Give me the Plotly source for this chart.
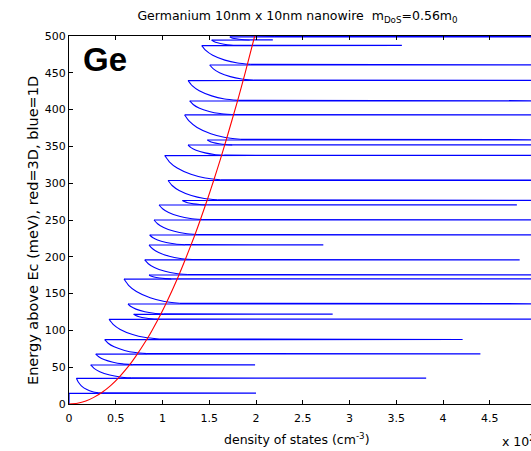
import plotly.graph_objects as go

# ---------------- data ----------------
# red: bulk (3D) density of states, x in units of 1e20 cm^-3
dos3d_meV = [0, 1, 4, 9, 16, 25, 37, 51, 64, 89, 100, 121, 139, 173, 198, 227, 250,
             282, 304, 332, 359, 413, 449, 500]
dos3d = [0, 0.09, 0.18, 0.265, 0.355, 0.445, 0.54, 0.635, 0.71, 0.838, 0.888, 0.977,
         1.047, 1.168, 1.249, 1.338, 1.404, 1.491, 1.548, 1.618, 1.682, 1.805, 1.882, 1.986]

# blue: nanowire (1D) density of states
level_meV = [14.5, 34.9, 53.0, 67.9, 87.5, 115.1, 121.9, 135.9, 169.8, 175.3, 195.7,
             216.0, 229.6, 250.0, 270.4, 276.5, 303.7, 337.6, 351.9, 358.7, 392.7,
             411.7, 439.5, 460.6, 487.0, 494.5, 498.8]
spike_dos = [2.00, 3.82, 1.99, 4.40, 4.21, 6, 2.82, 6, 6, 6, 4.82, 2.72, 6, 6, 4.79,
             6, 6, 6, 6, 6, 6, 6, 6, 6, 3.56, 2.18, 6]
valley_dos = [0.0, 0.079, 0.232, 0.286, 0.382, 0.428, 0.692, 0.631, 0.588, 0.856, 0.81,
              0.856, 0.863, 0.909, 0.963, 1.213, 1.059, 1.024, 1.273, 1.48, 1.237,
              1.291, 1.273, 1.505, 1.42, 1.526, 1.72]
tail_meV = [
    [15.11, 16.54, 19.6, 24.7, 29.8], [35.44, 36.71, 39.43, 43.95, 48.48],
    [53.45, 54.49, 56.73, 60.45, 64.18], [68.49, 69.86, 72.8, 77.7, 82.6],
    [88.33, 90.26, 94.4, 101.3, 108.2], [115.3, 115.78, 116.8, 118.5, 120.2],
    [122.32, 123.3, 125.4, 128.9, 132.4], [136.92, 139.29, 144.38, 152.85, 161.33],
    [169.97, 170.35, 171.18, 172.55, 173.93], [175.91, 177.34, 180.4, 185.5, 190.6],
    [196.31, 197.73, 200.78, 205.85, 210.93], [216.41, 217.36, 219.4, 222.8, 226.2],
    [230.21, 231.64, 234.7, 239.8, 244.9], [250.61, 252.04, 255.1, 260.2, 265.3],
    [270.58, 271.01, 271.93, 273.45, 274.98], [277.32, 279.22, 283.3, 290.1, 296.9],
    [304.72, 307.09, 312.18, 320.65, 329.13], [338.03, 339.03, 341.18, 344.75, 348.33],
    [352.1, 352.58, 353.6, 355.3, 357.0], [359.72, 362.1, 367.2, 375.7, 384.2],
    [393.27, 394.6, 397.45, 402.2, 406.95], [412.53, 414.48, 418.65, 425.6, 432.55],
    [440.13, 441.61, 444.78, 450.05, 455.33], [461.39, 463.24, 467.2, 473.8, 480.4],
    [487.23, 487.75, 488.88, 490.75, 492.63], [494.63, 494.93, 495.58, 496.65, 497.73],
    [499.3, 500.5]]
tail_dos = [
    [0.317, 0.253, 0.191, 0.132, 0.099], [0.666, 0.548, 0.436, 0.329, 0.268],
    [0.680, 0.573, 0.471, 0.374, 0.318], [0.833, 0.711, 0.594, 0.483, 0.419],
    [0.964, 0.819, 0.680, 0.548, 0.472], [0.958, 0.886, 0.817, 0.751, 0.714],
    [1.013, 0.909, 0.811, 0.716, 0.662], [1.182, 1.021, 0.868, 0.721, 0.637],
    [1.095, 1.030, 0.968, 0.909, 0.876], [1.271, 1.146, 1.027, 0.913, 0.848],
    [1.316, 1.191, 1.072, 0.959, 0.894], [1.240, 1.138, 1.040, 0.947, 0.894],
    [1.370, 1.245, 1.126, 1.012, 0.947], [1.424, 1.299, 1.180, 1.066, 1.001],
    [1.465, 1.397, 1.331, 1.269, 1.234], [1.591, 1.447, 1.309, 1.178, 1.103],
    [1.618, 1.457, 1.304, 1.157, 1.073], [1.659, 1.554, 1.455, 1.359, 1.305],
    [1.746, 1.674, 1.605, 1.539, 1.502], [1.832, 1.671, 1.517, 1.370, 1.286],
    [1.736, 1.615, 1.500, 1.390, 1.328], [1.811, 1.665, 1.526, 1.393, 1.317],
    [1.973, 1.847, 1.725, 1.610, 1.544], [1.944, 1.803, 1.667, 1.537, 1.463],
    [1.806, 1.730, 1.658, 1.589, 1.549], [1.932, 1.874, 1.820, 1.767, 1.737],
    [2.2, 1.95]]

x_ticks = [0, 0.5, 1, 1.5, 2, 2.5, 3, 3.5, 4, 4.5]
y_ticks = [0, 50, 100, 150, 200, 250, 300, 350, 400, 450, 500]

# ---------------- build the blue path ----------------
STEP = 0.15  # first energy sample above a subband edge
sx, sy = [0, valley_dos[0], None], [0, level_meV[0], None]
for n, E in enumerate(level_meV):
    sx += [valley_dos[n], spike_dos[n], tail_dos[n][0], None]
    sy += [E, E + STEP, tail_meV[n][0], None]

tx, ty = [], []
for n in range(len(level_meV)):
    tx += list(tail_dos[n])
    ty += list(tail_meV[n])
    if n + 1 < len(level_meV):
        tx.append(valley_dos[n + 1])
        ty.append(level_meV[n + 1])
    tx.append(None); ty.append(None)

fig = go.Figure()
fig.add_trace(go.Scatter(x=sx, y=sy, mode="lines", line=dict(color="#0000ff", width=1.2),
                         hoverinfo="skip"))
fig.add_trace(go.Scatter(x=tx, y=ty, mode="lines",
                         line=dict(color="#0000ff", width=1.1, shape="spline", smoothing=0.6),
                         hoverinfo="skip"))
fig.add_trace(go.Scatter(x=dos3d, y=dos3d_meV, mode="lines",
                         line=dict(color="#ff0000", width=1.1, shape="spline", smoothing=0.6),
                         hoverinfo="skip"))

FONT = "DejaVu Sans"
W, H = 531, 451
L, R, T, B = 69, 0, 36, 47
pw, ph = W - L - R, H - T - B

fig.update_layout(
    width=W, height=H, showlegend=False,
    margin=dict(l=L, r=R, t=T, b=B),
    paper_bgcolor="white", plot_bgcolor="white",
    font=dict(family=FONT, size=11, color="black"),
    title=dict(text="Germanium 10nm x 10nm nanowire  m<sub>DoS</sub>=0.56m<sub>0</sub>",
               x=297.5 / W, xref="container", xanchor="center",
               y=1 - 16 / H, yref="container", yanchor="middle",
               font=dict(family=FONT, size=12.5, color="black")),
    xaxis=dict(range=[0, pw / 93.5], tickvals=x_ticks, ticktext=[f"{v:g}" for v in x_ticks],
               ticks="inside", ticklen=4, tickcolor="black", showline=True, linecolor="black",
               linewidth=1, mirror="ticks", showgrid=False, zeroline=False,
               ticklabelstandoff=4,
               tickfont=dict(family=FONT, size=11, color="black")),
    yaxis=dict(range=[0, 500], tickvals=y_ticks, ticks="inside", ticklen=4, tickcolor="black",
               showline=True, linecolor="black", linewidth=1, mirror=False, showgrid=False,
               zeroline=False, tickfont=dict(family=FONT, size=11, color="black")),
)

fig.add_annotation(text="<b>Ge</b>", xref="paper", yref="paper", x=(81 - L) / pw,
                   y=(404 - 60) / ph, xanchor="left", yanchor="middle", showarrow=False,
                   font=dict(family="Liberation Sans", size=33, color="black"))
fig.add_annotation(text="density of states (cm<sup>-3</sup>)", xref="paper", yref="paper",
                   x=(296.5 - L) / pw, y=-(439 - 404) / ph, xanchor="center", yanchor="middle",
                   showarrow=False, font=dict(family=FONT, size=12.5, color="black"))
fig.add_annotation(text="x 10<sup>20</sup>", xref="paper", yref="paper",
                   x=(500 - L) / pw, y=-(441 - 404) / ph, xanchor="left", yanchor="middle",
                   showarrow=False, font=dict(family=FONT, size=12.5, color="black"))
fig.add_annotation(text="Energy above Ec (meV), red=3D, blue=1D", xref="paper", yref="paper",
                   x=(33 - L) / pw, y=(404 - 231) / ph, xanchor="center", yanchor="middle",
                   textangle=-90, showarrow=False,
                   font=dict(family=FONT, size=14.5, color="black"))

fig.write_html("out.html")
